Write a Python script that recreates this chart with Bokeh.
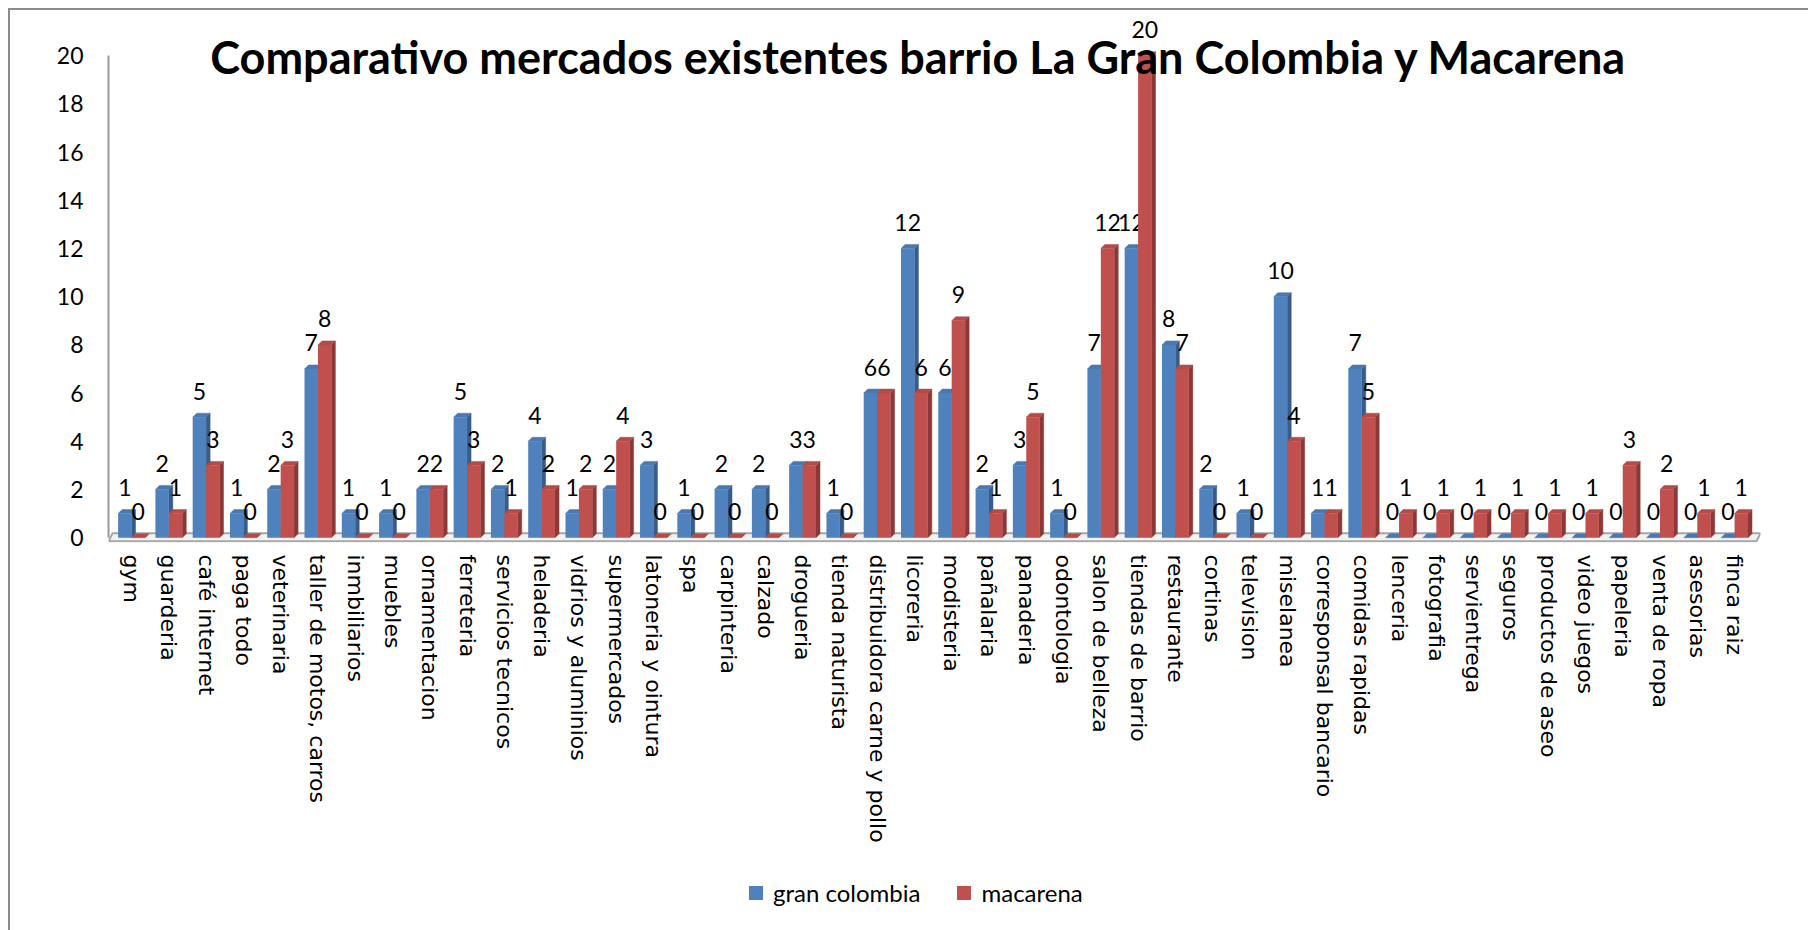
from bokeh.plotting import figure
from bokeh.layouts import column
from bokeh.models import Range1d, FixedTicker, ColumnDataSource, Label, Legend, LegendItem
from bokeh.core.properties import value
from bokeh.embed import file_html
from bokeh.resources import INLINE

# ---------------- data ----------------
categories = [
    "gym", "guarderia", "café internet", "paga todo", "veterinaria",
    "taller de motos, carros", "inmbiliarios", "muebles", "ornamentacion",
    "ferreteria", "servicios tecnicos", "heladeria", "vidrios y aluminios",
    "supermercados", "latoneria y ointura", "spa", "carpinteria", "calzado",
    "drogueria", "tienda naturista", "distribuidora carne y pollo", "licoreria",
    "modisteria", "pañalaria", "panaderia", "odontologia", "salon de belleza",
    "tiendas de barrio", "restaurante", "cortinas", "television", "miselanea",
    "corresponsal bancario", "comidas rapidas", "lenceria", "fotografia",
    "servientrega", "seguros", "productos de aseo", "video juegos", "papeleria",
    "venta de ropa", "asesorias", "finca raiz",
]
gran_colombia = [1, 2, 5, 1, 2, 7, 1, 1, 2, 5, 2, 4, 1, 2, 3, 1, 2, 2, 3, 1, 6, 12,
                 6, 2, 3, 1, 7, 12, 8, 2, 1, 10, 1, 7, 0, 0, 0, 0, 0, 0, 0, 0, 0, 0]
macarena = [0, 1, 3, 0, 3, 8, 0, 0, 2, 3, 1, 2, 2, 4, 0, 0, 0, 0, 3, 0, 6, 6,
            9, 1, 5, 0, 12, 20, 7, 0, 0, 4, 1, 5, 1, 1, 1, 1, 1, 1, 3, 2, 1, 1]
series_names = ["gran colombia", "macarena"]
y_ticks = [0, 2, 4, 6, 8, 10, 12, 14, 16, 18, 20]
title_text = "Comparativo mercados existentes barrio La Gran Colombia y Macarena"

# ---------------- layout ----------------
W = 1798
H1, H2 = 860, 60
MB_L, MB_R, MB_T, MB_B = 98, 48, 10, 328
PX_X = 37.28     # pixels per category slot
PX_Y = 24.1      # pixels per unit
x_start = -0.618
x_end = x_start + (W - MB_L - MB_R) / PX_X
y_start = -0.2
y_end = y_start + (H1 - MB_T - MB_B) / PX_Y

BW = 0.36               # bar front width (slot units)
DX = 4.0 / PX_X         # 3D depth x
DY = 4.0 / PX_Y         # 3D depth y

BLUE, BLUE_SIDE, BLUE_TOP = "#4F81BD", "#385D8A", "#4A78B0"
RED, RED_SIDE, RED_TOP = "#C0504D", "#8C3836", "#B44B48"

p = figure(width=W, height=H1, output_backend="svg", toolbar_location=None,
           x_range=Range1d(x_start, x_end), y_range=Range1d(y_start, y_end),
           min_border_left=MB_L, min_border_right=MB_R,
           min_border_top=MB_T, min_border_bottom=MB_B)
p.title.visible = False
p.outline_line_color = None
p.grid.visible = False
p.background_fill_color = "white"
p.border_fill_color = "white"

n = len(categories)
idx = list(range(n))

# floor (3D base)
p.patch([x_start, x_end - DX, x_end, x_start + DX],
        [-0.15, -0.15, 0.18, 0.18],
        fill_color="#F2F2F2", line_color="#A6A6A6", line_width=2)


def bar_faces(lefts, vals):
    side_xs, side_ys, top_xs, top_ys = [], [], [], []
    for l, v in zip(lefts, vals):
        r = l + BW
        side_xs.append([r, r + DX, r + DX, r])
        side_ys.append([0, DY, v + DY, v])
        top_xs.append([l, r, r + DX, l + DX])
        top_ys.append([v, v, v + DY, v + DY])
    return side_xs, side_ys, top_xs, top_ys


for vals, off, c_front, c_side, c_top in [
    (gran_colombia, -BW, BLUE, BLUE_SIDE, BLUE_TOP),
    (macarena, 0.0, RED, RED_SIDE, RED_TOP),
]:
    lefts = [i + off for i in idx]
    sx, sy, tx, ty = bar_faces(lefts, vals)
    p.patches(sx, sy, fill_color=c_side, line_color=c_side, line_width=0.5)
    p.patches(tx, ty, fill_color=c_top, line_color=c_top, line_width=0.5)
    src = ColumnDataSource(dict(x=[l + BW / 2 for l in lefts], top=vals,
                                lab=[str(v) for v in vals]))
    p.vbar(x="x", top="top", bottom=0, width=BW, source=src,
           fill_color=c_front, line_color=None)
    p.text(x="x", y="top", text="lab", source=src, text_align="center",
           text_baseline="alphabetic", y_offset=-26,
           text_font=value("Lato"), text_font_size="23px", text_color="#000000")

# axes
p.yaxis.ticker = FixedTicker(ticks=y_ticks)
p.yaxis.bounds = (0, 20)
p.yaxis.axis_line_color = "#9A9A9A"
p.yaxis.axis_line_width = 2
p.yaxis.major_tick_line_color = None
p.yaxis.minor_tick_line_color = None
p.yaxis.major_tick_out = 0
p.yaxis.major_label_standoff = 25
p.yaxis.major_label_text_font = "Lato"
p.yaxis.major_label_text_font_size = "23px"
p.yaxis.major_label_text_color = "#000000"

p.xaxis.ticker = FixedTicker(ticks=idx)
p.xaxis.major_label_overrides = {i: c for i, c in enumerate(categories)}
p.xaxis.major_label_orientation = "vertical"
p.xaxis.axis_line_color = None
p.xaxis.major_tick_line_color = None
p.xaxis.minor_tick_line_color = None
p.xaxis.major_tick_out = 0
p.xaxis.major_tick_in = 0
p.xaxis.major_label_standoff = 12
p.xaxis.major_label_text_font = "DejaVu Sans"
p.xaxis.major_label_text_font_size = "22px"
p.xaxis.major_label_text_color = "#000000"

# title drawn over the plot area
p.add_layout(Label(x=(x_start + x_end) / 2 - 0.42, y=19.93, text=title_text,
                   text_align="center", text_baseline="alphabetic",
                   text_font="Lato", text_font_style="bold",
                   text_font_size="45px", text_color="#000000"))

# ---------------- legend strip ----------------
q = figure(width=W, height=H2, output_backend="svg", toolbar_location=None,
           x_range=Range1d(0, 1), y_range=Range1d(0, 1),
           x_axis_location=None, y_axis_location=None,
           min_border=0)
q.title.visible = False
q.outline_line_color = None
q.grid.visible = False
q.background_fill_color = "white"
q.border_fill_color = "white"
# legend key glyphs: one point each, placed outside the visible range
key_b = q.scatter(x=[-5], y=[-5], marker="square", fill_color=BLUE, line_color=None)
key_r = q.scatter(x=[-5], y=[-5], marker="square", fill_color=RED, line_color=None)
legend = Legend(items=[LegendItem(label=series_names[0], renderers=[key_b]),
                       LegendItem(label=series_names[1], renderers=[key_r])],
                location=(630, 20), orientation="horizontal",
                border_line_color=None, background_fill_alpha=0,
                padding=0, margin=0, spacing=26, label_standoff=0,
                glyph_width=35, glyph_height=35,
                label_text_font="Lato", label_text_font_size="24px",
                label_text_color="#000000")
q.add_layout(legend)

layout = column(p, q, spacing=0)
layout.styles = {"margin-left": "8px", "margin-top": "8px",
                 "border-left": "2px solid #8C8C8C", "border-top": "2px solid #8C8C8C"}

open("out.html", "w").write(file_html(layout, INLINE))
